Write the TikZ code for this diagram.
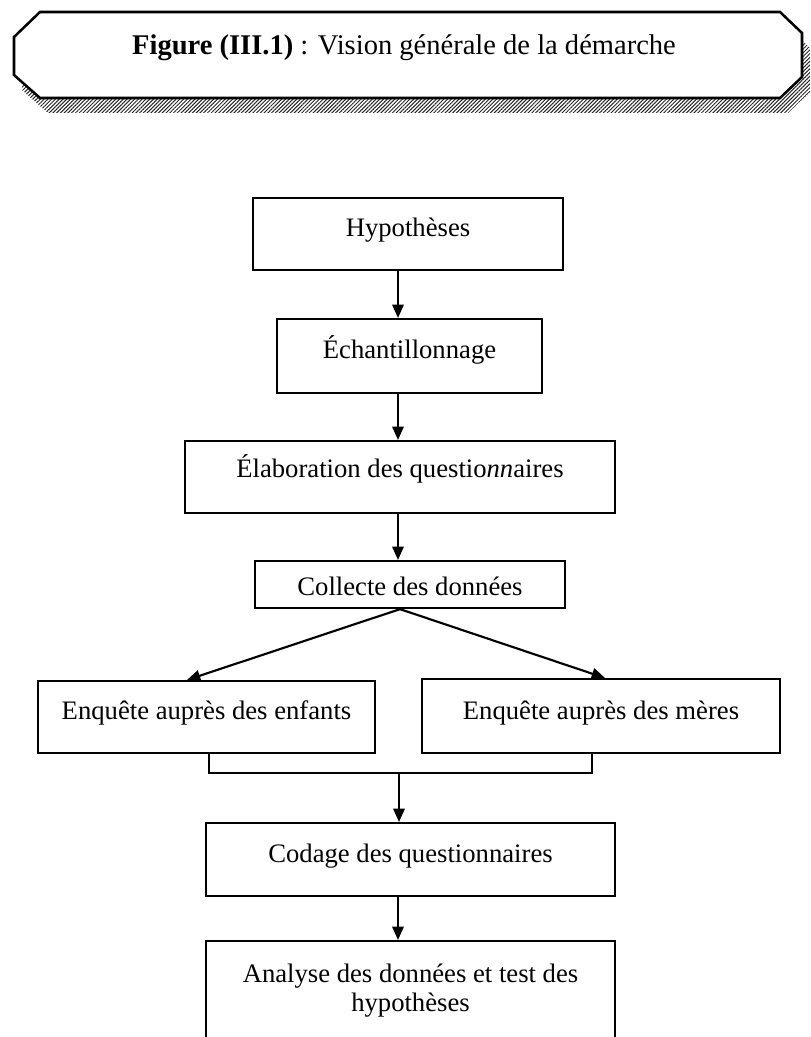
\documentclass[tikz,border=0pt]{standalone}
\usepackage{fontspec}
\setmainfont{Liberation Serif}
\usetikzlibrary{arrows.meta,calc,patterns.meta}
\newcommand\flowfont{\fontsize{20}{21.75}\selectfont}
\newcommand\titlefont{\fontsize{21.4}{24}\selectfont}
\begin{document}
\begin{tikzpicture}[x=0.75pt,y=-0.75pt,
  stepbox/.style={draw, line width=1.6pt, fill=white, inner xsep=0pt, inner ysep=0pt,
    anchor=north, font=\flowfont},
  flow/.style={line width=1.6pt, -{Triangle[width=8.5pt,length=10pt]}},
  link/.style={line width=1.6pt},
  framebox/.style={draw, line width=1.9pt, fill=white},
  hatch/.style={pattern={Lines[angle=45,distance=2pt,line width=0.75pt]}, pattern color=black!85}]
\useasboundingbox (0,0) rectangle (810,1037);
\clip (0,0) rectangle (810,1037);

% heading banner with its hatched drop shadow
\path[hatch] (48,27) -- (788,27) -- (810,48) -- (810,92) -- (788,113) -- (48,113) -- (22,90) -- (22,52) -- cycle;
\draw[framebox] (40,12) -- (780,12) -- (802,33) -- (802,77) -- (780,98) -- (40,98) -- (14,75) -- (14,37) -- cycle;
\node[font=\titlefont, anchor=base, inner sep=0pt] (title) at (404,55)
  {\textbf{Figure (III.1)} : Vision générale de la démarche};

% steps of the procedure
\node[stepbox, minimum width=232.5pt, text height=28.5pt, text depth=25.5pt] (hyp) at (408,197) {Hypothèses};
\node[stepbox, minimum width=198.75pt, text height=29.25pt, text depth=26.25pt] (ech) at (409.5,318) {Échantillonnage};
\node[stepbox, minimum width=322.5pt, text height=27pt, text depth=27pt] (ela) at (400,440) {Élaboration des questio\textit{nn}aires};
\node[stepbox, minimum width=232.5pt, text height=25.5pt, text depth=9.75pt] (col) at (410,560) {Collecte des données};
\node[stepbox, minimum width=252.75pt, text height=28.5pt, text depth=25.5pt] (enf) at (206.5,680) {Enquête auprès des enfants};
\node[stepbox, minimum width=268.5pt, text height=30pt, text depth=25.5pt] (mer) at (601,678) {Enquête auprès des mères};
\node[stepbox, minimum width=306.75pt, text height=29.25pt, text depth=25.5pt] (cod) at (410.5,822) {Codage des questionnaires};
\node[stepbox, minimum width=306.75pt, minimum height=97.5pt] (ana) at (410.5,940) {};
\node[font=\flowfont, align=center, anchor=north, inner sep=0pt] (anatext) at (410.5,964)
  {Analyse des données et test des\\hypothèses};

% connectors
\coordinate (axis) at (398,0);
\coordinate (join) at (399,773);
\coordinate (ljoin) at (209,773);
\coordinate (rjoin) at (592,773);
\draw[flow] (hyp.south -| axis) -- (ech.north -| axis);
\draw[flow] (ech.south -| axis) -- (ela.north -| axis);
\draw[flow] (ela.south -| axis) -- (col.north -| axis);
\draw[flow] ($(col.south -| axis)+(2,0)$) -- ($(enf.north)+(-19.5,0)$);
\draw[flow] ($(col.south -| axis)+(2,0)$) -- ($(mer.north)+(4,0)$);
\draw[link] (enf.south -| ljoin) -- (ljoin) -- (rjoin) -- (rjoin |- mer.south);
\draw[flow] (join) -- (cod.north -| join);
\draw[flow] (cod.south -| axis) -- (ana.north -| axis);
\end{tikzpicture}
\end{document}
